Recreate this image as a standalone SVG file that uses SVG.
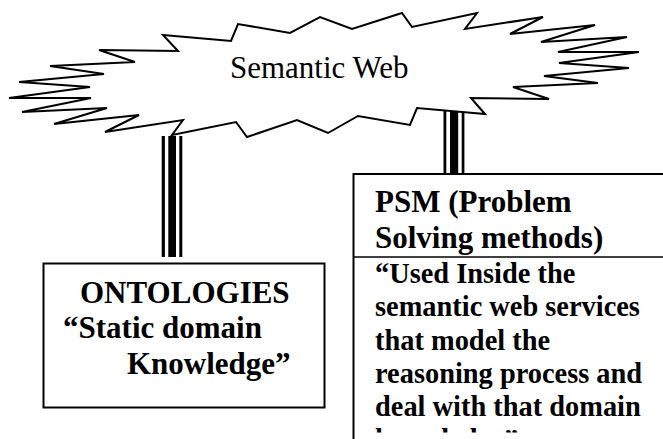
<svg xmlns="http://www.w3.org/2000/svg" width="663" height="439" viewBox="0 0 663 439">
<style>
.box{fill:#fff;stroke:#000;stroke-width:2}
.title{font-family:"Liberation Serif","Times New Roman",serif;font-weight:bold;font-size:31px;fill:#000}
.body{font-family:"Liberation Serif","Times New Roman",serif;font-weight:bold;font-size:28.4px;fill:#000}
.reg{font-family:"Liberation Serif","Times New Roman",serif;font-size:31px;fill:#000}
.bar{fill:#000}
</style>
<defs>
<clipPath id="psmclip"><rect x="354" y="258" width="320" height="174.5"/></clipPath>
</defs>
<rect width="663" height="439" fill="#fff"/>
<g id="connectors">
<g id="c-left">
<rect class="bar" x="161.7" y="136" width="3.2" height="121"/>
<rect class="bar" x="168.3" y="136" width="7.7" height="121"/>
<rect class="bar" x="179.3" y="136" width="3" height="121"/>
</g>
<g id="c-right">
<rect class="bar" x="443.5" y="110" width="2.8" height="64"/>
<rect class="bar" x="450" y="110" width="8.2" height="64"/>
<rect class="bar" x="461.7" y="110" width="2.7" height="64"/>
</g>
</g>
<g id="semantic-web">
<polygon fill="#fff" stroke="#000" stroke-width="2" stroke-linejoin="miter" points="9,98 90,87 19,82 104,74 50,66 135,62 99,50 178,51 163,35 231,41 238,24 290,33 320,17 352,29 402,13 412,27 477,13 465,29 543,17 510,34 595,25 541,42 627,37 558,52 639,52 559,63 629,68 544,76 598,83 513,87 549,99 471,98 485,114 417,108 410,125 358,116 328,133 297,120 247,137 236,122 172,135 183,120 105,132 139,115 54,124 107,108 22,112 91,98"/>
<text class="reg" x="230" y="77.5">Semantic Web</text>
</g>
<g id="ontologies">
<rect class="box" x="43.5" y="263.5" width="281" height="144"/>
<text class="title" x="80" y="302.5">ONTOLOGIES</text>
<text class="title" x="63" y="338">“Static domain</text>
<text class="title" x="127" y="373.5">Knowledge”</text>
</g>
<g id="psm">
<rect class="box" x="353.5" y="174" width="330" height="280"/>
<line x1="353.5" y1="257" x2="663" y2="257" stroke="#000" stroke-width="1.3"/>
<text class="title" x="375" y="211.5">PSM (Problem</text>
<text class="title" x="375" y="248">Solving methods)</text>
<g clip-path="url(#psmclip)">
<text class="body" x="375" y="283">“Used Inside the</text>
<text class="body" x="375" y="316.3">semantic web services</text>
<text class="body" x="375" y="349.6">that model the</text>
<text class="body" x="375" y="382.6">reasoning process and</text>
<text class="body" x="375" y="415.5">deal with that domain</text>
<text class="body" x="375" y="448.6">knowledge”</text>
</g>
</g>
</svg>
